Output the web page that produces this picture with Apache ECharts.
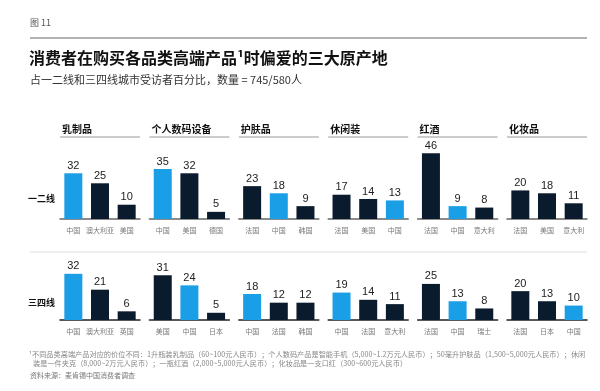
<!DOCTYPE html>
<html>
<head>
<meta charset="utf-8">
<script src="https://cdn.jsdelivr.net/npm/echarts@6/dist/echarts.min.js"></script>
<style>
html,body{margin:0;padding:0;background:#fff;}
#c{width:600px;height:391px;}
</style>
</head>
<body>
<div id="c"></div>
<script>
const categories = ['乳制品', '个人数码设备', '护肤品', '休闲装', '红酒', '化妆品'];
const tiers = ['一二线', '三四线'];
const countriesTier1 = [['中国','澳大利亚','美国'],['中国','美国','德国'],['法国','中国','韩国'],['法国','美国','中国'],['法国','中国','意大利'],['法国','美国','意大利']];
const valuesTier1 = [[32,25,10],[35,32,5],[23,18,9],[17,14,13],[46,9,8],[20,18,11]];
const countriesTier2 = [['中国','澳大利亚','英国'],['美国','中国','日本'],['中国','法国','韩国'],['中国','法国','意大利'],['法国','中国','瑞士'],['法国','日本','中国']];
const valuesTier2 = [[32,21,6],[31,24,5],[18,12,12],[19,14,11],[25,13,8],[20,13,10]];
const highlight = '中国';

const FONT = '"Noto Sans CJK SC", "Noto Sans", sans-serif';
const NUMFONT = '"Liberation Sans", Arial, sans-serif';
const BLUE = '#1a9fe6';
const NAVY = '#0b1b2e';

const chart = echarts.init(document.getElementById('c'), null, {renderer: 'canvas'});

const panelLeft = i => 60 + 89.4 * i;
const panelW = 80;
const rows = [
  {top: 149, height: 70, max: 49, countries: countriesTier1, values: valuesTier1, axisColor: '#666'},
  {top: 250, height: 70, max: 48.5, countries: countriesTier2, values: valuesTier2, axisColor: '#222'}
];

const grid = [], xAxis = [], yAxis = [], series = [];
rows.forEach((r, ri) => {
  categories.forEach((cat, ci) => {
    const idx = grid.length;
    grid.push({left: panelLeft(ci), width: panelW, top: r.top, height: r.height, containLabel: false});
    xAxis.push({
      type: 'category', gridIndex: idx, data: r.countries[ci],
      axisLine: {show: true, lineStyle: {color: r.axisColor, width: 1.5}},
      axisTick: {show: false},
      axisLabel: {fontSize: 7, color: '#777', margin: 8, fontFamily: FONT, interval: 0}
    });
    yAxis.push({type: 'value', gridIndex: idx, min: 0, max: r.max, show: false, splitLine: {show: false}});
    series.push({
      type: 'bar', xAxisIndex: idx, yAxisIndex: idx, barWidth: 18,
      data: r.values[ci].map((v, k) => ({value: v, itemStyle: {color: r.countries[ci][k] === highlight ? BLUE : NAVY}})),
      label: {show: true, position: 'top', distance: 2, fontSize: 11, color: '#222', fontFamily: NUMFONT},
      silent: true, animation: false
    });
  });
});

const graphic = [
  {type: 'text', left: 30, top: 18, style: {text: '图 11', fontSize: 9, fill: '#555', fontFamily: FONT}},
  {type: 'line', shape: {x1: 30, y1: 38, x2: 587, y2: 38}, style: {stroke: '#999', lineWidth: 1.5}},
  {type: 'text', left: 29, top: 50, style: {text: '消费者在购买各品类高端产品¹时偏爱的三大原产地', fontSize: 16, fontWeight: 'bold', fill: '#111', fontFamily: FONT}},
  {type: 'text', left: 30, top: 74, style: {text: '占一二线和三四线城市受访者百分比，数量 = 745/580人', fontSize: 11, fill: '#333', fontFamily: FONT}},
  {type: 'text', left: 28, top: 194, style: {text: tiers[0], fontSize: 9, fontWeight: 'bold', fill: '#111', fontFamily: FONT}},
  {type: 'text', left: 28, top: 298, style: {text: tiers[1], fontSize: 9, fontWeight: 'bold', fill: '#111', fontFamily: FONT}},
  {type: 'line', shape: {x1: 30, y1: 252, x2: 587, y2: 252}, style: {stroke: '#ddd', lineWidth: 1}},
  {type: 'text', left: 29, top: 351, style: {text: '¹不同品类高端产品对应的价位不同：1升瓶装乳制品（60~100元人民币）；个人数码产品是智能手机（5,000~1.2万元人民币）；50毫升护肤品（1,500~5,000元人民币）；休闲', fontSize: 7.2, fill: '#888', fontFamily: FONT}},
  {type: 'text', left: 33, top: 360, style: {text: '装是一件夹克（8,000~2万元人民币）；一瓶红酒（2,000~5,000元人民币）；化妆品是一支口红（300~600元人民币）', fontSize: 7.2, fill: '#888', fontFamily: FONT}},
  {type: 'text', left: 30, top: 372, style: {text: '资料来源：麦肯锡中国消费者调查', fontSize: 7, fill: '#777', fontFamily: FONT}}
];
categories.forEach((cat, ci) => {
  const x = panelLeft(ci);
  graphic.push({type: 'text', left: x + 2, top: 124, style: {text: cat, fontSize: 10, fontWeight: 'bold', fill: '#111', fontFamily: FONT}});
  graphic.push({type: 'line', shape: {x1: x, y1: 137, x2: x + panelW, y2: 137}, style: {stroke: '#999', lineWidth: 1}});
});

chart.setOption({
  backgroundColor: '#fff',
  animation: false,
  grid, xAxis, yAxis, series, graphic
});
</script>
</body>
</html>
